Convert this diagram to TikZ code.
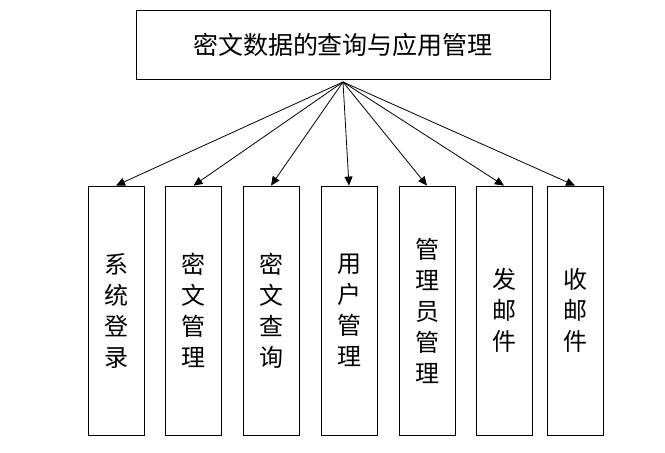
\documentclass[tikz,border=0pt]{standalone}
\usepackage{fontspec}
\newfontfamily\cjk{Noto Sans CJK SC}
\usetikzlibrary{arrows.meta}
\begin{document}
\begin{tikzpicture}
[x=1pt,y=-1pt,
  boxDecorate/.style={draw,thick,inner sep=0pt},
  lineDecorate/.style={-{Triangle[length=9pt,width=8pt]},thick},
  font=\cjk]
\useasboundingbox (0,0) rectangle (665,453);
%% top node
\node (top) at (343,44.5) [boxDecorate,minimum width=414pt,minimum height=69pt,
  font=\cjk\fontsize{25}{30}\selectfont] {密文数据的查询与应用管理};
\coordinate (hub) at (343,82);
%% leaf nodes
\foreach \nodename/\x/\label in {
  a/116/系\\统\\登\\录,
  b/193.5/密\\文\\管\\理,
  c/271/密\\文\\查\\询,
  d/349/用\\户\\管\\理,
  e/427/管\\理\\员\\管\\理,
  f/504/发\\邮\\件,
  g/575/收\\邮\\件}
{
  \node (\nodename) at (\x,310.5) [boxDecorate,minimum width=56pt,minimum height=249pt,
    align=center,font=\cjk\fontsize{24}{31}\selectfont] {\label};
}
%% edges
\foreach \endnode in {a,b,c,d,e,f,g}
{
  \draw[lineDecorate] (hub) -- (\endnode.north);
}
\end{tikzpicture}
\end{document}
